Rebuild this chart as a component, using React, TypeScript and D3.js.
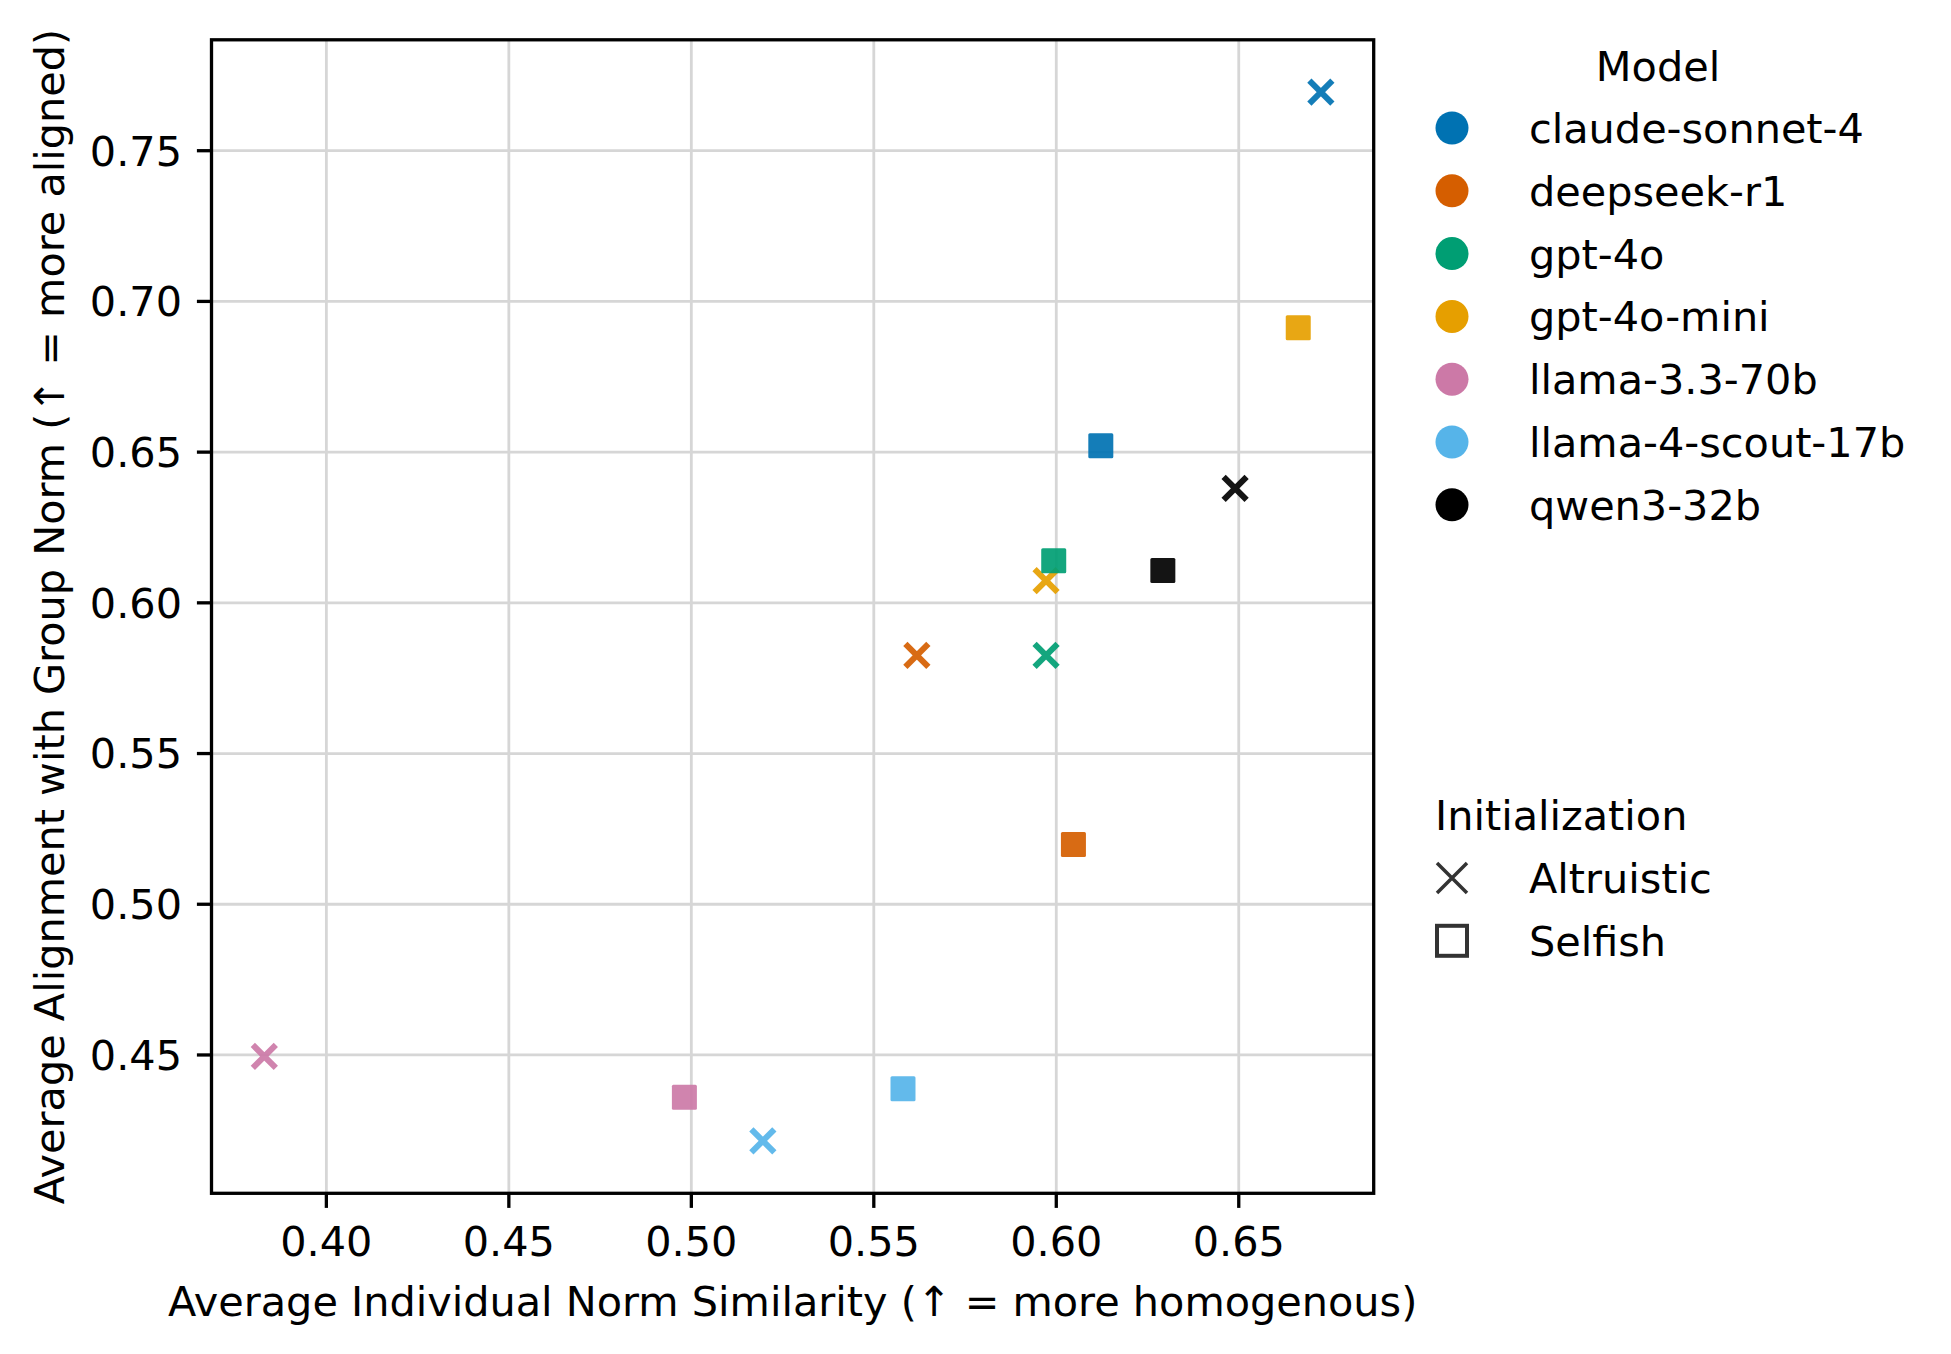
import React, { useEffect, useRef } from 'react';
import * as d3 from 'd3';

// Model names and their colours (Okabe-Ito palette)
const models = ['claude-sonnet-4', 'deepseek-r1', 'gpt-4o', 'gpt-4o-mini', 'llama-3.3-70b', 'llama-4-scout-17b', 'qwen3-32b'];
const modelColors = ['#0072B2', '#D55E00', '#009E73', '#E69F00', '#CC79A7', '#56B4E9', '#000000'];

// Altruistic initialization (x markers)
const altruisticX = [0.6725, 0.5618, 0.5972, 0.5972, 0.3830, 0.5196, 0.6490];
const altruisticY = [0.7694, 0.5826, 0.5826, 0.6074, 0.4495, 0.4215, 0.6380];

// Selfish initialization (square markers)
const selfishX = [0.6122, 0.6047, 0.5993, 0.6663, 0.4981, 0.5580, 0.6292];
const selfishY = [0.6521, 0.5198, 0.6140, 0.6913, 0.4360, 0.4388, 0.6107];

const initNames = ['Altruistic', 'Selfish'];
const xTicks = [0.40, 0.45, 0.50, 0.55, 0.60, 0.65];
const yTicks = [0.45, 0.50, 0.55, 0.60, 0.65, 0.70, 0.75];

const W = 1951;
const H = 1354;
const FONT = '"DejaVu Sans", sans-serif';
const FS = 41.4;

const App: React.FC = () => {
  const svgRef = useRef<SVGSVGElement>(null);

  useEffect(() => {
    document.body.style.margin = '0';
    document.body.style.overflow = 'hidden';
    if (!svgRef.current) return;
    const svg = d3.select(svgRef.current);
    svg.selectAll('*').remove();

    const left = 211.5, right = 1373.7, top = 39.8, bottom = 1193.3;

    const points = [
      ...models.map((m, i) => ({ model: i, init: 0, x: altruisticX[i], y: altruisticY[i] })),
      ...models.map((m, i) => ({ model: i, init: 1, x: selfishX[i], y: selfishY[i] })),
    ];

    // matplotlib-style 5% margins
    const xe = d3.extent(points, d => d.x) as [number, number];
    const ye = d3.extent(points, d => d.y) as [number, number];
    const xp = (xe[1] - xe[0]) * 0.05;
    const yp = (ye[1] - ye[0]) * 0.05;

    const x = d3.scaleLinear().domain([xe[0] - xp, xe[1] + xp]).range([left, right]);
    const y = d3.scaleLinear().domain([ye[0] - yp, ye[1] + yp]).range([bottom, top]);

    svg.append('rect').attr('width', W).attr('height', H).attr('fill', '#fff');

    // Grid
    const grid = svg.append('g').attr('stroke', '#d6d6d6').attr('stroke-width', 2.8);
    xTicks.forEach(t => {
      grid.append('line').attr('x1', x(t)).attr('x2', x(t)).attr('y1', top).attr('y2', bottom);
    });
    yTicks.forEach(t => {
      grid.append('line').attr('x1', left).attr('x2', right).attr('y1', y(t)).attr('y2', y(t));
    });

    // Points: altruistic first, then selfish
    const marks = svg.append('g');
    const h = 11.5;
    points.forEach(p => {
      const cx = x(p.x), cy = y(p.y);
      const col = modelColors[p.model];
      if (p.init === 0) {
        marks.append('path')
          .attr('d', `M${cx - h},${cy - h}L${cx + h},${cy + h}M${cx - h},${cy + h}L${cx + h},${cy - h}`)
          .attr('stroke', col)
          .attr('stroke-width', 6)
          .attr('fill', 'none')
          .attr('opacity', 0.92);
      } else {
        marks.append('rect')
          .attr('x', cx - 12.5).attr('y', cy - 12.5)
          .attr('width', 25).attr('height', 25)
          .attr('rx', 1.5)
          .attr('fill', col)
          .attr('opacity', 0.92);
      }
    });

    // Spines
    svg.append('rect')
      .attr('x', left).attr('y', top)
      .attr('width', right - left).attr('height', bottom - top)
      .attr('fill', 'none').attr('stroke', '#000').attr('stroke-width', 3.3);

    // Ticks and labels
    const tl = 14.6;
    const axes = svg.append('g').attr('font-family', FONT).attr('font-size', FS).attr('fill', '#000');
    xTicks.forEach(t => {
      axes.append('line').attr('x1', x(t)).attr('x2', x(t)).attr('y1', bottom).attr('y2', bottom + tl)
        .attr('stroke', '#000').attr('stroke-width', 3.3);
      axes.append('text').attr('x', x(t)).attr('y', 1256).attr('text-anchor', 'middle').text(d3.format('.2f')(t));
    });
    yTicks.forEach(t => {
      axes.append('line').attr('x1', left - tl).attr('x2', left).attr('y1', y(t)).attr('y2', y(t))
        .attr('stroke', '#000').attr('stroke-width', 3.3);
      axes.append('text').attr('x', 182).attr('y', y(t)).attr('dy', '0.36em').attr('text-anchor', 'end')
        .text(d3.format('.2f')(t));
    });

    axes.append('text')
      .attr('x', (left + right) / 2).attr('y', 1316)
      .attr('text-anchor', 'middle')
      .text('Average Individual Norm Similarity (↑ = more homogenous)');
    axes.append('text')
      .attr('transform', `translate(64,${(top + bottom) / 2}) rotate(-90)`)
      .attr('text-anchor', 'middle')
      .text('Average Alignment with Group Norm (↑ = more aligned)');

    // Model legend
    const leg = svg.append('g').attr('font-family', FONT).attr('font-size', FS).attr('fill', '#000');
    leg.append('text').attr('x', 1658).attr('y', 81).attr('text-anchor', 'middle').text('Model');
    models.forEach((m, i) => {
      const cy = 128 + i * 62.8;
      leg.append('circle').attr('cx', 1452).attr('cy', cy).attr('r', 16.5).attr('fill', modelColors[i]);
      leg.append('text').attr('x', 1529).attr('y', cy + 15).text(m);
    });

    // Initialization legend
    leg.append('text').attr('x', 1435).attr('y', 830).text('Initialization');
    initNames.forEach((n, i) => {
      const cy = 878 + i * 62.8;
      if (i === 0) {
        const s = 15;
        leg.append('path')
          .attr('d', `M${1452 - s},${cy - s}L${1452 + s},${cy + s}M${1452 - s},${cy + s}L${1452 + s},${cy - s}`)
          .attr('stroke', '#333').attr('stroke-width', 3.5).attr('fill', 'none');
      } else {
        leg.append('rect').attr('x', 1452 - 15).attr('y', cy - 15).attr('width', 30).attr('height', 30)
          .attr('fill', 'none').attr('stroke', '#333').attr('stroke-width', 4);
      }
      leg.append('text').attr('x', 1529).attr('y', cy + 15).text(n);
    });
  }, []);

  return (
    <svg
      ref={svgRef}
      width={W}
      height={H}
      viewBox={`0 0 ${W} ${H}`}
      style={{ position: 'absolute', left: 0, top: 0, display: 'block' }}
    />
  );
};

export default App;
